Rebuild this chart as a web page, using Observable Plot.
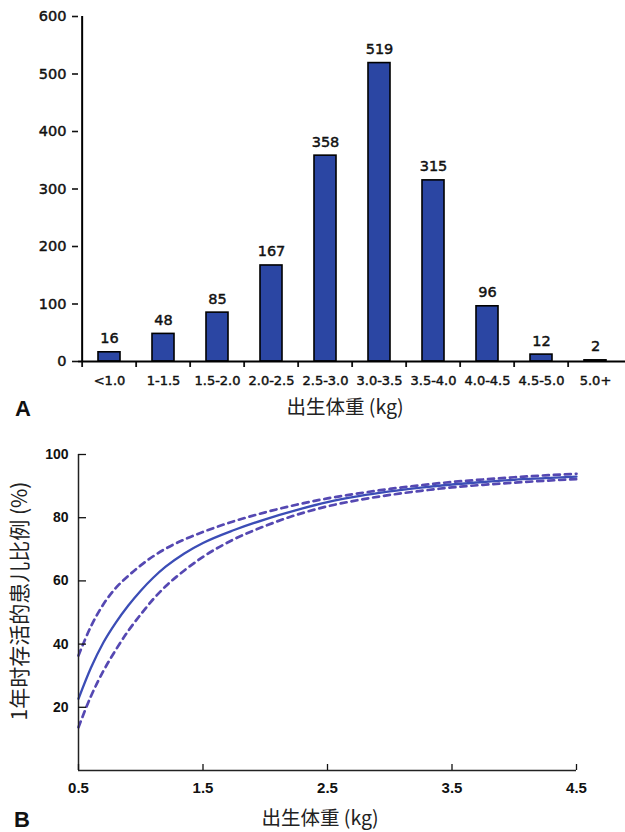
<!DOCTYPE html>
<html>
<head>
<meta charset="utf-8">
<script src="https://cdn.jsdelivr.net/npm/d3@7"></script>
<script src="https://cdn.jsdelivr.net/npm/@observablehq/plot@0.6"></script>
<style>
  body { margin: 0; background: #fff; }
  #fig { position: relative; width: 625px; height: 832px; overflow: hidden; background: #fff; }
  .panel { position: absolute; left: 0; }
  .panel-a text { stroke: #111; stroke-width: 0.45px; }
  .ttl { position: absolute; font-family: "Noto Sans CJK SC", sans-serif; font-size: 19.5px; line-height: 20px; color: #222; white-space: nowrap; }
  .tag { position: absolute; font-family: "Liberation Sans", Arial, sans-serif; font-weight: bold; font-size: 22px; line-height: 20px; color: #111; }
</style>
</head>
<body>
<div id="fig"></div>
<script>
// Panel A: number of infants per birth-weight bin
const weightBins = ["<1.0", "1-1.5", "1.5-2.0", "2.0-2.5", "2.5-3.0", "3.0-3.5", "3.5-4.0", "4.0-4.5", "4.5-5.0", "5.0+"];
const infantCounts = [16, 48, 85, 167, 358, 519, 315, 96, 12, 2];
const countTicks = [0, 100, 200, 300, 400, 500, 600];

// Panel B: one-year survival by birth weight, with confidence band
const birthWeight   = [0.5, 0.6, 0.7, 0.8, 0.9, 1.0, 1.1, 1.2, 1.35, 1.5, 1.75, 2.0, 2.25, 2.5, 2.75, 3.0, 3.25, 3.5, 3.75, 4.0, 4.25, 4.5];
const survivalEst   = [22.7, 32.5, 40.5, 46.8, 52.2, 56.9, 61, 64.5, 68.7, 72, 76.1, 79.5, 82.4, 84.9, 86.8, 88.3, 89.5, 90.5, 91.3, 92, 92.5, 93];
const survivalUpper = [36.4, 45.6, 52.6, 57.8, 61.6, 64.9, 67.8, 70.2, 73.1, 75.5, 78.9, 81.7, 84.1, 86.1, 87.7, 89.1, 90.3, 91.3, 92.1, 92.8, 93.4, 93.9];
const survivalLower = [13.7, 23.5, 31.5, 38.2, 44.2, 49.4, 54.2, 58.3, 63.3, 67.6, 73.2, 77.4, 80.9, 83.6, 85.6, 87.2, 88.5, 89.6, 90.4, 91.1, 91.7, 92.2];
const weightTicks = [0.5, 1.5, 2.5, 3.5, 4.5];
const survivalTicks = [20, 40, 60, 80, 100];

const fig = document.getElementById("fig");
const W = 625;

// ---- Panel A ----
const mLA = 78, mRA = 0;
const bandW = (W - mLA - mRA) / weightBins.length;
const bins = weightBins.map((bin, i) => ({bin, count: infantCounts[i]}));

const chartA = Plot.plot({
  width: W,
  height: 400,
  marginTop: 16,
  marginBottom: 39,
  marginLeft: mLA,
  marginRight: mRA,
  style: {fontFamily: "'DejaVu Sans', sans-serif", fontSize: "14px", color: "#111", background: "transparent", overflow: "visible"},
  x: {type: "band", domain: weightBins, padding: 0, label: null},
  y: {domain: [0, 600], label: null},
  marks: [
    Plot.barY(bins, {x: "bin", y: "count", fill: "#2b46a3", stroke: "#000", strokeWidth: 1.6, insetLeft: 16, insetRight: 16}),
    Plot.text(bins, {x: "bin", y: "count", text: d => String(d.count), dy: -9, lineAnchor: "bottom", fontSize: 14.5, fill: "#111"}),
    Plot.axisY({ticks: countTicks, tickSize: 6, tickPadding: 6, strokeWidth: 1.6, fontSize: 14.5, label: null}),
    Plot.axisX({tickSize: 0, tickPadding: 14, fontSize: 13, label: null}),
    Plot.axisX({tickSize: 6, tickFormat: () => "", dx: -bandW / 2, strokeWidth: 1.8, label: null}),
    Plot.ruleX([weightBins[0]], {dx: -bandW / 2, y1: 0, y2: 600, stroke: "#000", strokeWidth: 2}),
    Plot.ruleY([0], {stroke: "#000", strokeWidth: 2})
  ]
});
chartA.classList.add("panel", "panel-a");
chartA.style.top = "0px";
fig.appendChild(chartA);

// ---- Panel B ----
const pts = (ys) => birthWeight.map((w, i) => ({w, v: ys[i]}));
const chartB = Plot.plot({
  width: W,
  height: 390,
  marginTop: 14,
  marginBottom: 60,
  marginLeft: 78,
  marginRight: 49,
  style: {fontFamily: "'Liberation Sans', Arial, sans-serif", fontSize: "14px", color: "#111", background: "transparent", overflow: "visible"},
  x: {domain: [0.5, 4.5], label: null},
  y: {domain: [0, 100], label: null},
  marks: [
    Plot.line(pts(survivalUpper), {x: "w", y: "v", stroke: "#5548b2", strokeWidth: 2.7, strokeDasharray: "6,5", curve: "monotone-x"}),
    Plot.line(pts(survivalLower), {x: "w", y: "v", stroke: "#5548b2", strokeWidth: 2.7, strokeDasharray: "6,5", curve: "monotone-x"}),
    Plot.line(pts(survivalEst), {x: "w", y: "v", stroke: "#3b4db6", strokeWidth: 2.3, curve: "monotone-x"}),
    Plot.ruleX([0.5], {y1: 0, y2: 100, stroke: "#222", strokeWidth: 1.5}),
    Plot.ruleY([0], {stroke: "#222", strokeWidth: 1.5}),
    Plot.axisY({ticks: survivalTicks, tickSize: 0, tickPadding: 10, fontWeight: "bold", fontSize: 14, label: null}),
    Plot.axisY({ticks: survivalTicks, tickSize: 8, dx: 8, tickFormat: () => "", strokeWidth: 1.3, label: null}),
    Plot.axisX({ticks: weightTicks, tickSize: 0, tickPadding: 12, tickFormat: d => d.toFixed(1), fontWeight: "bold", fontSize: 15, label: null}),
    Plot.axisX({ticks: weightTicks, tickSize: 6, dy: -6, tickFormat: () => "", strokeWidth: 1.3, label: null})
  ]
});
chartB.classList.add("panel");
chartB.style.top = "440px";
fig.appendChild(chartB);

// ---- titles and panel letters ----
function addText(cls, text, css) {
  const d = document.createElement("div");
  d.className = cls;
  d.textContent = text;
  Object.assign(d.style, css);
  fig.appendChild(d);
}
addText("ttl", "出生体重 (kg)", {left: "345px", top: "396px", transform: "translateX(-50%)"});
addText("ttl", "出生体重 (kg)", {left: "320px", top: "807px", transform: "translateX(-50%)"});
addText("ttl", "1年时存活的患儿比例 (%)", {left: "18px", top: "601px", transform: "translate(-50%, -50%) rotate(-90deg)", fontSize: "21px"});
addText("tag", "A", {left: "15px", top: "399px"});
addText("tag", "B", {left: "14px", top: "810px"});
</script>
</body>
</html>
